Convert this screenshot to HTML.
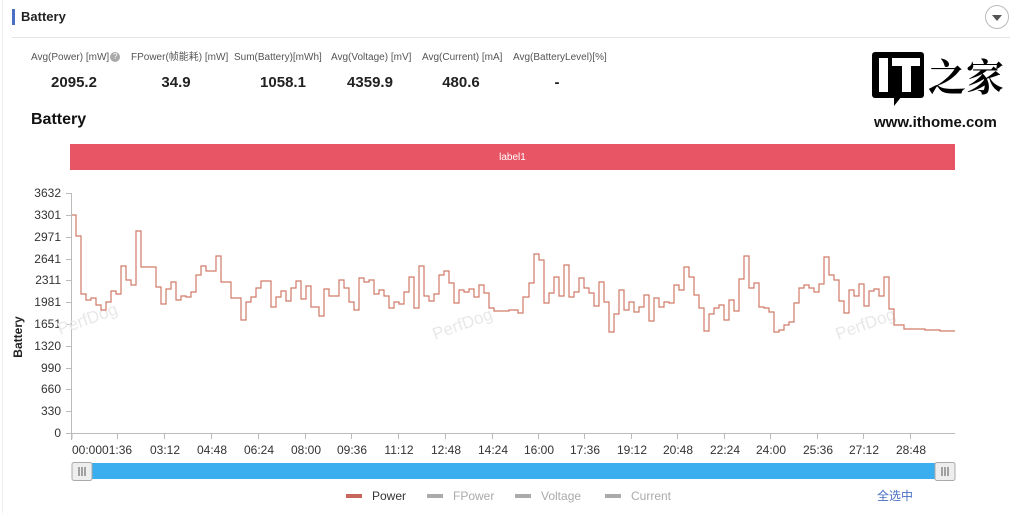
<!DOCTYPE html>
<html><head><meta charset="utf-8"><style>
body{margin:0;width:1024px;height:513px;background:#fff;font-family:"Liberation Sans","Noto Sans CJK SC",sans-serif;position:relative;overflow:hidden}
.a{position:absolute;white-space:nowrap}
.lab{font-size:10px;color:#555;top:52px;line-height:12px;height:12px}
.val{font-size:15px;font-weight:bold;color:#222;top:74px;text-align:center;line-height:17px}
</style></head><body>
<div class="a" style="left:2px;top:0;width:1px;height:513px;background:#eee"></div>
<div class="a" style="left:12px;top:9px;width:3px;height:16px;background:#4a6fc4"></div>
<div class="a" style="left:21px;top:9px;font-size:13px;font-weight:bold;color:#222">Battery</div>
<div class="a" style="left:12px;top:37px;width:998px;height:1px;background:#e4e4e4"></div>
<div class="a" style="left:985px;top:5px;width:24px;height:24px;border:1px solid #bbb;border-radius:50%;box-sizing:border-box"></div>
<div class="a" style="left:992px;top:15px;width:0;height:0;border-left:5px solid transparent;border-right:5px solid transparent;border-top:6px solid #555"></div>

<div class="a lab" style="left:31px">Avg(Power) [mW]<span style="display:inline-block;width:10px;height:10px;border-radius:50%;background:#aaa;color:#fff;font-size:8px;text-align:center;line-height:10px;margin-left:1px;vertical-align:top">?</span></div>
<div class="a lab" style="left:131px">FPower(帧能耗) [mW]</div>
<div class="a lab" style="left:234px">Sum(Battery)[mWh]</div>
<div class="a lab" style="left:331px">Avg(Voltage) [mV]</div>
<div class="a lab" style="left:422px">Avg(Current) [mA]</div>
<div class="a lab" style="left:513px">Avg(BatteryLevel)[%]</div>
<div class="a val" style="left:44px;width:60px">2095.2</div>
<div class="a val" style="left:146px;width:60px">34.9</div>
<div class="a val" style="left:253px;width:60px">1058.1</div>
<div class="a val" style="left:340px;width:60px">4359.9</div>
<div class="a val" style="left:431px;width:60px">480.6</div>
<div class="a val" style="left:527px;width:60px">-</div>

<div class="a" style="left:872px;top:52px;width:52px;height:46px;background:#000;border-radius:3px"></div>
<div class="a" style="left:879px;top:58px;width:9px;height:34px;background:#fff"></div>
<div class="a" style="left:892px;top:58px;width:28px;height:8px;background:#fff"></div>
<div class="a" style="left:902px;top:58px;width:9px;height:34px;background:#fff"></div>
<div class="a" style="left:894px;top:96px;width:0;height:0;border-left:8px solid #000;border-bottom:10px solid transparent"></div>
<div class="a" style="left:928px;top:52px;font-size:38px;font-weight:bold;font-family:'Noto Serif CJK SC',serif;line-height:46px">之家</div>
<div class="a" style="left:874px;top:114px;font-size:15px;font-weight:bold;color:#111">www.ithome.com</div>

<div class="a" style="left:31px;top:111px;font-size:16px;font-weight:bold;color:#111">Battery</div>
<div class="a" style="left:70px;top:144px;width:885px;height:26px;background:#e85565;color:#fff;font-size:10px;text-align:center;line-height:27px">label1</div>

<svg class="a" style="left:0;top:0" width="1024" height="513">
<g font-size="12" fill="#333" text-anchor="end" font-family="Liberation Sans,sans-serif">
<text x="61" y="197">3632</text><text x="61" y="219">3301</text><text x="61" y="241">2971</text><text x="61" y="263">2641</text><text x="61" y="284">2311</text><text x="61" y="306">1981</text><text x="61" y="328">1651</text><text x="61" y="350">1320</text><text x="61" y="372">990</text><text x="61" y="393">660</text><text x="61" y="415">330</text><text x="61" y="437">0</text>
</g>
<g stroke="#bbb" stroke-width="1">
<line x1="71.5" y1="193" x2="71.5" y2="440"/>
<line x1="71" y1="433.5" x2="955" y2="433.5"/>
<path d="M66 193.5h5M66 215.5h5M66 237.5h5M66 259.5h5M66 280.5h5M66 302.5h5M66 324.5h5M66 346.5h5M66 368.5h5M66 389.5h5M66 411.5h5M66 433.5h5"/>
<path d="M72 434v5M117.5 434v5M164.5 434v5M211.5 434v5M258.5 434v5M305.5 434v5M351.5 434v5M398.5 434v5M445.5 434v5M492.5 434v5M538.5 434v5M584.5 434v5M631.5 434v5M677.5 434v5M724.5 434v5M770.5 434v5M817.5 434v5M863.5 434v5M910.5 434v5"/>
</g>
<g font-size="12" fill="#333" font-family="Liberation Sans,sans-serif">
<text x="72" y="454">00:0001:36</text>
<g text-anchor="middle"><text x="165" y="454">03:12</text><text x="212" y="454">04:48</text><text x="259" y="454">06:24</text><text x="306" y="454">08:00</text><text x="352" y="454">09:36</text><text x="399" y="454">11:12</text><text x="446" y="454">12:48</text><text x="493" y="454">14:24</text><text x="539" y="454">16:00</text><text x="585" y="454">17:36</text><text x="632" y="454">19:12</text><text x="678" y="454">20:48</text><text x="725" y="454">22:24</text><text x="771" y="454">24:00</text><text x="818" y="454">25:36</text><text x="864" y="454">27:12</text><text x="911" y="454">28:48</text></g>
</g>
<text x="22" y="337" font-size="12" font-weight="bold" fill="#222" transform="rotate(-90 22 337)" text-anchor="middle" font-family="Liberation Sans,sans-serif">Battery</text>
<g font-size="17" fill="#e8e8e8" font-family="Liberation Sans,sans-serif"><text x="60" y="335" transform="rotate(-20 60 335)">PerfDog</text><text x="435" y="340" transform="rotate(-20 435 340)">PerfDog</text><text x="838" y="340" transform="rotate(-20 838 340)">PerfDog</text></g>
<path fill="none" stroke="#d07a68" stroke-width="1.2" d="M72 215H76V236H81V294H86V300H91V298H96V305H101V310H106V302H111V291H116V294H121V266H126V280H131V285H136V231H141V267H156V287H161V304H166V289H171V282H176V300H181V296H186V297H191V292H196V275H201V266H206V271H216V256H221V282H231V298H241V320H246V302H251V297H256V288H261V281H271V307H276V297H281V291H286V301H291V288H296V281H301V299H306V286H311V307H319V316H324V289H329V296H339V280H344V288H349V302H354V310H359V278H364V282H369V280H374V294H379V290H384V296H389V308H394V302H399V304H404V292H409V277H414V308H419V266H424V296H429V301H434V294H439V275H444V271H449V283H454V303H459V290H464V292H469V289H474V297H479V285H484V293H489V308H494V311H509V310H518V313H523V297H529V283H534V254H539V260H544V303H549V293H554V277H559V296H564V265H569V297H574V292H579V278H584V288H589V293H594V306H599V282H604V302H609V332H614V314H619V290H624V310H629V302H634V312H639V307H644V295H649V321H654V298H659V307H664V302H669V303H674V285H679V290H684V267H689V277H694V295H699V308H704V331H709V314H714V308H719V305H724V320H729V300H734V311H739V279H744V256H749V288H754V283H759V307H764V308H769V312H774V332H779V330H784V325H789V322H794V303H799V288H804V285H809V288H814V292H819V284H824V257H829V275H834V280H839V301H844V313H849V290H854V296H859V284H864V306H869V291H874V289H879V296H884V277H889V309H894V325H904V329H925V330H940V331H955"/>
<rect x="72" y="463" width="883" height="16" fill="#3aaeee"/>
<rect x="72" y="462.5" width="20" height="18" rx="2" fill="#eee" stroke="#aaa"/>
<rect x="935" y="462.5" width="20" height="18" rx="2" fill="#eee" stroke="#aaa"/>
<path d="M79 467v9M82 467v9M85 467v9M942 467v9M945 467v9M948 467v9" stroke="#555"/>
<rect x="346" y="494" width="16" height="4" fill="#c8665a"/>
<rect x="427" y="494" width="16" height="4" fill="#aaa"/>
<rect x="515" y="494" width="16" height="4" fill="#aaa"/>
<rect x="605" y="494" width="16" height="4" fill="#aaa"/>
<g font-size="12" font-family="Liberation Sans,'Noto Sans CJK SC',sans-serif"><text x="372" y="500" fill="#333">Power</text><text x="453" y="500" fill="#aaa">FPower</text><text x="541" y="500" fill="#aaa">Voltage</text><text x="631" y="500" fill="#aaa">Current</text><text x="877" y="500" fill="#4a6fc4">全选中</text></g>
</svg>
</body></html>
